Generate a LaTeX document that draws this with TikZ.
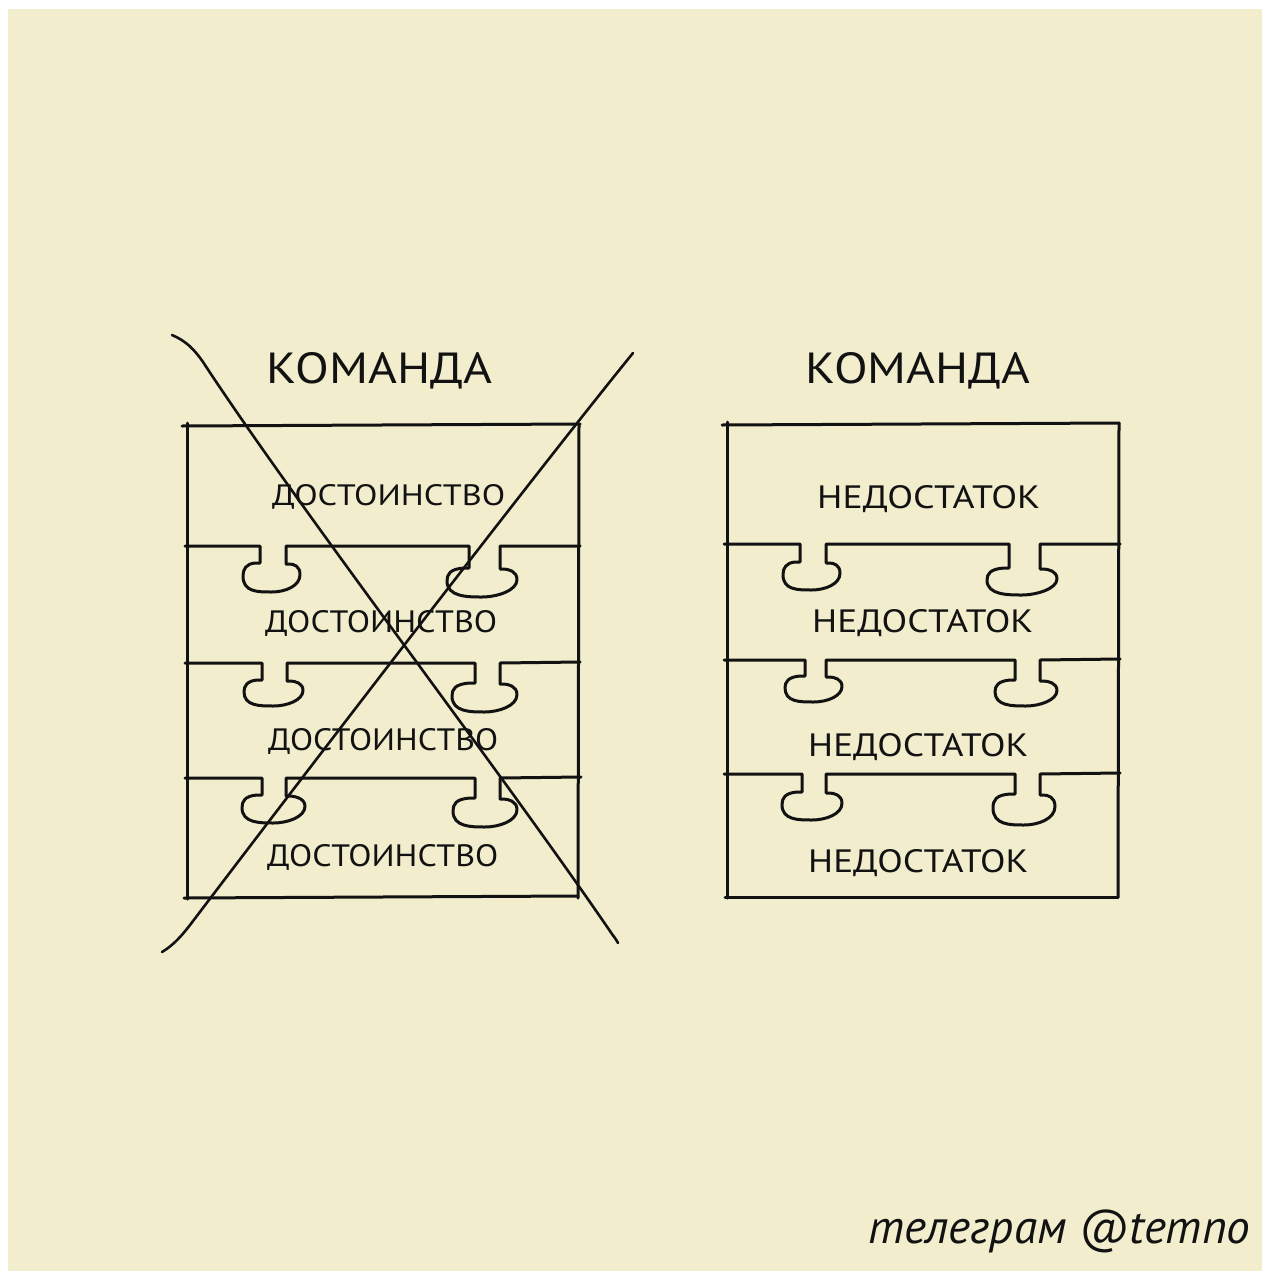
\documentclass[tikz,border=0pt]{standalone}
\usepackage{fontspec}
\setmainfont{PT Sans}
\usepackage{graphicx}
\definecolor{cream}{RGB}{242,237,205}
\definecolor{ink}{RGB}{18,18,18}
% tab: a b y0 s L R B
\newcommand\mytab[7]{%
 -- (#1,#3) -- (#1,{#3+#4}) -- ({#1-5},{#3+#4})
 .. controls ({#5+3},{#3+#4+1}) and (#5,{#3+#4+6}) .. (#5,{#3+#4+0.45*(#7-#3-#4)})
 .. controls (#5,#7) and ({(#5+#6)/2-14},#7) .. ({(#5+#6)/2},#7)
 .. controls ({(#5+#6)/2+14},#7) and (#6,{#7-6}) .. (#6,{#3+#4+0.4*(#7-#3-#4)})
 .. controls (#6,{#3+#4+3}) and ({#2+8},{#3+#4+1}) .. ({#2+3},{#3+#4+1})
 -- (#2,{#3+#4+1}) -- (#2,#3)}
\begin{document}
\begin{tikzpicture}[x=1pt,y=-1pt,line cap=round,line join=round,
  inkline/.style={draw=ink,line width=3pt},
  crossline/.style={draw=ink,line width=2.6pt},
  txt/.style={inner sep=0pt,anchor=base west,text=ink}]
\useasboundingbox (0,0) rectangle (1265,1271);
\fill[white] (0,0) rectangle (1265,1271);
\fill[cream] (8,9) rectangle (1262,1271);

% headers
\node[txt] (h1) at (266,383) {\resizebox{226pt}{31pt}{КОМАНДА}};
\node[txt] (h2) at (805,383) {\resizebox{225pt}{31pt}{КОМАНДА}};

% left box
\draw[inkline] (182,426) -- (580,424);
\draw[inkline] (187,423) -- (187,899);
\draw[inkline] (579,424) -- (578,898);
\draw[inkline] (184,898) -- (578,896);
\draw[inkline] (185,546) \mytab{260}{286}{546}{17}{243}{300}{592} \mytab{469}{500}{546}{22}{447}{517}{597} -- (580,546);
\draw[inkline] (185,663) \mytab{262}{287}{663}{17}{244}{303}{706} \mytab{475}{500}{663}{20}{452}{517}{712} -- (580,662);
\draw[inkline] (185,778) \mytab{262}{286}{778}{17}{242}{305}{823} \mytab{475}{500}{778}{20}{453}{517}{827} -- (581,777);

\node[txt] (l1) at (272,505) {\resizebox{233pt}{21pt}{ДОСТОИНСТВО}};
\node[txt] (l2) at (265,632) {\resizebox{232pt}{22pt}{ДОСТОИНСТВО}};
\node[txt] (l3) at (268,750) {\resizebox{230pt}{22pt}{ДОСТОИНСТВО}};
\node[txt] (l4) at (267,866) {\resizebox{231pt}{22pt}{ДОСТОИНСТВО}};

% right box
\draw[inkline] (722,425) -- (1119,423);
\draw[inkline] (727,422) -- (727,898);
\draw[inkline] (1119,423) -- (1118,897);
\draw[inkline] (725,897) -- (1118,897);
\draw[inkline] (724,544) \mytab{800}{826}{544}{18}{783}{840}{590} \mytab{1009}{1040}{544}{24}{987}{1057}{595} -- (1120,544);
\draw[inkline] (724,660) \mytab{805}{826}{660}{16}{785}{842}{702} \mytab{1015}{1040}{660}{20}{995}{1057}{706} -- (1120,659);
\draw[inkline] (724,774) \mytab{802}{826}{774}{18}{782}{842}{820} \mytab{1015}{1040}{774}{20}{993}{1055}{825} -- (1120,773);

\node[txt] (r1) at (817,508) {\resizebox{223pt}{23pt}{НЕДОСТАТОК}};
\node[txt] (r2) at (812,632) {\resizebox{221pt}{23pt}{НЕДОСТАТОК}};
\node[txt] (r3) at (808,756) {\resizebox{220pt}{23pt}{НЕДОСТАТОК}};
\node[txt] (r4) at (808,872) {\resizebox{220pt}{23pt}{НЕДОСТАТОК}};

% cross
\draw[crossline] (172,335) .. controls (186,341) and (194,349) .. (203,362)
  .. controls (300,510) and (500,770) .. (612,934) .. controls (615,938) and (617,941) .. (618,943);
\draw[crossline] (633,353) .. controls (530,480) and (300,780) .. (190,925)
  .. controls (180,938) and (172,946) .. (162,952);

% signature
\node[txt] (tg) at (868,1243) {\resizebox{382pt}{!}{\itshape телеграм @temno}};
\end{tikzpicture}
\end{document}
